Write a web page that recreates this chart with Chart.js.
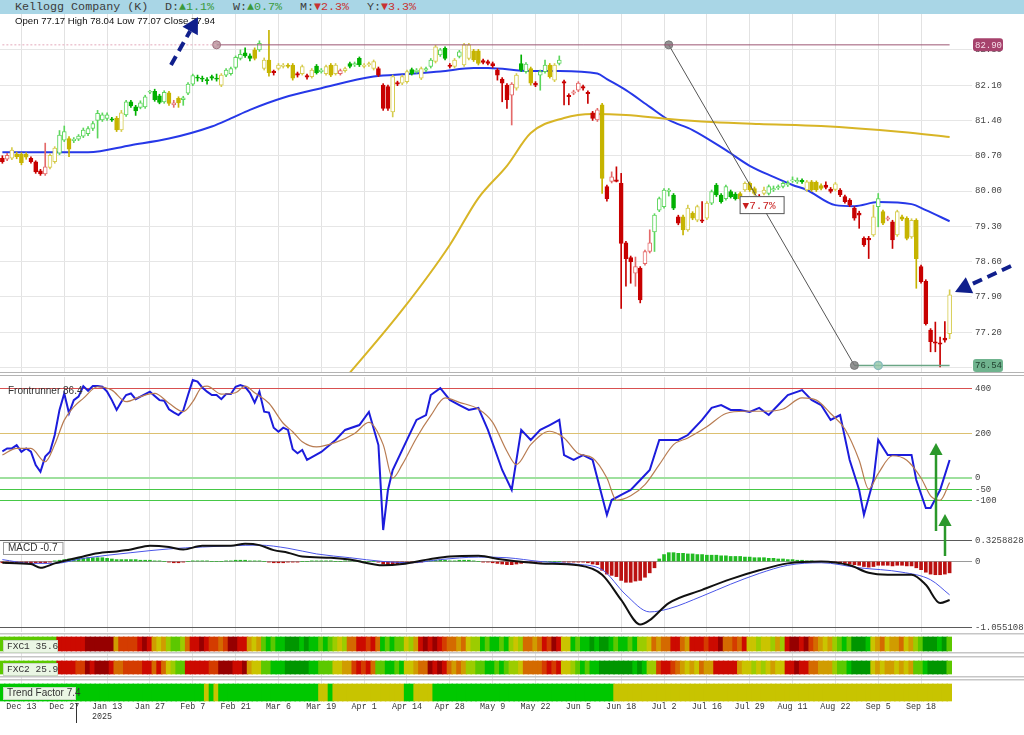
<!DOCTYPE html>
<html>
<head>
<meta charset="utf-8">
<title>Kellogg Company (K)</title>
<script src="https://cdn.jsdelivr.net/npm/chart.js@4.4.1/dist/chart.umd.min.js"></script>
<style>
  body { margin: 0; width: 1024px; height: 735px; overflow: hidden; position: relative; background: #fff; }
  canvas { position: absolute; left: 0; }
  #hdr { position: absolute; left: 0; top: 0; width: 1024px; height: 14px; background: #a9d6e6; font: 11.7px "Liberation Mono", monospace; color: #3c3c3c; }
  #hdr > span { position: absolute; top: 0; line-height: 14px; white-space: pre; }
  .up { color: #3a9a3a; }
  .dn { color: #c83232; }
  #ohlc { position: absolute; left: 15px; top: 15px; font: 9.6px "Liberation Sans", Arial, sans-serif; color: #111; z-index: 4; }
  .sep { position: absolute; left: 0; width: 1024px; height: 1px; background: #b4b4b4; }
</style>
</head>
<body>
<div id="hdr">
  <span style="left:15px">Kellogg Company (K)</span>
  <span style="left:165px">D:<span class="up">▲1.1%</span></span>
  <span style="left:233px">W:<span class="up">▲0.7%</span></span>
  <span style="left:300px">M:<span class="dn">▼2.3%</span></span>
  <span style="left:367px">Y:<span class="dn">▼3.3%</span></span>
</div>
<div id="ohlc">Open 77.17 High 78.04 Low 77.07 Close 77.94</div>
<canvas id="cPrice" width="1024" height="358" style="top:14px"></canvas>
<div class="sep" style="top:372px"></div>
<div class="sep" style="top:375px"></div>
<canvas id="cFr" width="1024" height="161" style="top:377px"></canvas>
<canvas id="cMacd" width="1024" height="101" style="top:531px"></canvas>
<canvas id="cStrip" width="1024" height="102" style="top:633px"></canvas>
<canvas id="ov" width="1024" height="735" style="top:0;z-index:5;pointer-events:none"></canvas>
<script>
"use strict"

// daily candles, Dec 9 2024 .. Sep 26 2025
const open = [
  80.65,80.63,80.65,80.73,80.73,80.73,80.65,80.58,80.40,80.34, 80.47,80.58,80.75,81.01,81.04,81.00,81.03,81.09,81.14,81.24,
  81.40,81.41,81.44,81.43,81.44,81.21,81.51,81.77,81.67,81.66, 81.67,81.96,81.98,81.89,81.77,81.95,81.71,81.84,81.81,81.94,
  82.12,82.26,82.24,82.21,82.27,82.24,82.10,82.30,82.33,82.45, 82.63,82.74,82.68,82.80,82.80,82.43,82.60,82.38,82.43,82.47,
  82.50,82.50,82.33,82.33,82.29,82.27,82.48,82.37,82.33,82.50, 82.33,82.33,82.39,82.53,82.50,82.63,82.47,82.50,82.43,82.43,
  82.10,82.07,81.57,82.15,82.14,82.17,82.41,82.37,82.24,82.40, 82.47,82.57,82.70,82.83,82.50,82.47,82.67,82.50,82.63,82.78,
  82.78,82.59,82.57,82.53,82.40,82.22,82.10,81.90,82.04,82.53, 82.37,82.43,82.14,82.30,82.37,82.50,82.20,82.53,82.17,81.90,
  81.94,82.00,82.07,81.96,81.55,81.41,81.71,80.09,80.19,80.22, 80.15,78.97,78.68,78.37,78.47,78.56,78.80,79.19,79.62,79.69,
  79.99,79.92,79.49,79.49,79.23,79.56,79.42,79.43,79.46,79.76, 80.12,79.92,79.85,79.99,79.94,79.95,80.02,80.15,80.05,79.90,
  79.95,79.95,80.02,80.06,80.09,80.12,80.20,80.18,80.21,80.02, 80.18,80.17,80.11,80.12,80.04,80.03,80.02,79.89,79.82,79.66,
  79.56,79.06,79.06,79.13,79.69,79.59,79.44,79.39,79.13,79.49, 79.46,79.09,79.42,78.50,78.21,77.24,77.01,76.99,77.08,77.17
];
const high = [
  80.70,80.75,80.86,80.77,80.76,80.76,80.68,80.60,80.43,80.95, 80.74,80.88,81.20,81.29,81.08,81.06,81.12,81.25,81.28,81.38,
  81.60,81.55,81.55,81.46,81.48,81.60,81.80,81.80,81.70,81.79, 81.90,82.00,82.02,81.92,81.99,81.98,81.80,81.87,81.88,82.15,
  82.32,82.30,82.28,82.25,82.30,82.32,82.33,82.43,82.46,82.68, 82.80,82.84,82.72,82.84,82.98,82.64,83.19,82.40,82.53,82.53,
  82.53,82.53,82.36,82.50,82.32,82.43,82.51,82.43,82.50,82.53, 82.53,82.42,82.46,82.56,82.56,82.66,82.53,82.56,82.60,82.46,
  82.13,82.10,82.30,82.18,82.30,82.40,82.44,82.43,82.46,82.46, 82.63,82.89,82.83,82.86,82.53,82.63,82.79,82.93,82.93,82.81,
  82.81,82.62,82.60,82.56,82.43,82.25,82.13,82.15,82.33,82.70, 82.55,82.46,82.17,82.40,82.60,82.53,82.53,82.68,82.20,81.93,
  82.00,82.17,82.10,81.99,81.58,81.64,81.74,80.12,80.38,80.48, 80.35,79.00,78.71,78.69,78.50,78.83,79.23,79.55,79.88,80.05,
  80.05,79.95,79.52,79.52,79.72,79.59,79.72,79.79,79.79,80.02, 80.15,79.95,80.12,80.02,79.97,79.98,80.18,80.18,80.08,79.93,
  80.08,80.12,80.10,80.12,80.18,80.20,80.28,80.26,80.24,80.21, 80.21,80.20,80.14,80.18,80.07,80.17,80.05,79.92,79.85,79.69,
  79.60,79.09,79.10,79.72,79.95,79.62,79.50,79.42,79.62,79.52, 79.49,79.45,79.45,78.53,78.24,77.27,77.40,77.10,77.41,78.04
];
const low = [
  80.55,80.60,80.62,80.64,80.52,80.63,80.55,80.35,80.31,80.31, 80.44,80.55,80.72,80.98,80.68,80.96,81.00,81.06,81.10,81.20,
  81.05,81.38,81.40,81.38,81.18,81.18,81.48,81.66,81.50,81.63, 81.64,81.93,81.78,81.73,81.74,81.70,81.66,81.66,81.70,81.91,
  82.09,82.18,82.17,82.12,82.20,82.18,82.07,82.27,82.30,82.42, 82.60,82.65,82.58,82.60,82.77,82.40,82.28,82.30,82.40,82.44,
  82.44,82.20,82.26,82.30,82.22,82.24,82.32,82.34,82.30,82.27, 82.30,82.30,82.36,82.44,82.47,82.47,82.44,82.47,82.40,82.27,
  81.60,81.60,81.47,82.09,82.11,82.14,82.30,82.34,82.21,82.37, 82.44,82.54,82.67,82.60,82.44,82.44,82.64,82.47,82.60,82.57,
  82.50,82.52,82.50,82.45,82.20,81.77,81.64,81.31,82.00,82.37, 82.34,82.10,82.07,82.00,82.34,82.24,82.17,82.50,81.71,81.71,
  81.91,81.97,82.00,81.74,81.40,81.38,79.95,79.80,80.16,80.18, 77.67,78.11,78.17,78.11,77.78,78.53,78.77,78.80,79.59,79.66,
  79.90,79.63,79.33,79.13,79.20,79.43,79.39,79.37,79.43,79.73, 79.89,79.76,79.82,79.86,79.82,79.82,79.99,79.99,79.92,79.72,
  79.92,79.92,79.99,80.03,80.06,80.09,80.17,80.15,80.15,79.99, 79.99,79.99,80.02,80.04,79.96,80.00,79.89,79.76,79.69,79.42,
  79.26,78.90,78.66,79.10,79.29,79.33,79.41,78.86,79.10,79.41, 79.03,79.06,78.07,78.17,77.34,76.81,76.81,76.51,77.00,77.07
];
const close = [
  80.58,80.71,80.81,80.68,80.56,80.67,80.58,80.38,80.34,80.48, 80.71,80.85,81.11,81.18,80.83,81.03,81.09,81.21,81.24,81.34,
  81.54,81.51,81.51,81.41,81.21,81.55,81.77,81.69,81.59,81.75, 81.87,81.98,81.81,81.76,81.96,81.74,81.75,81.75,81.85,82.12,
  82.29,82.24,82.22,82.19,82.24,82.22,82.30,82.40,82.43,82.65, 82.71,82.68,82.63,82.63,82.93,82.60,82.35,82.35,82.50,82.50,
  82.47,82.24,82.30,82.47,82.26,82.40,82.35,82.40,82.47,82.30, 82.50,82.39,82.43,82.47,82.53,82.50,82.50,82.53,82.57,82.30,
  81.64,81.64,82.27,82.12,82.27,82.37,82.33,82.40,82.43,82.43, 82.60,82.86,82.80,82.63,82.47,82.60,82.76,82.90,82.90,82.60,
  82.53,82.55,82.53,82.48,82.30,82.14,81.81,82.12,82.30,82.40, 82.52,82.14,82.10,82.37,82.50,82.27,82.50,82.60,82.14,81.87,
  81.97,82.14,82.04,81.93,81.44,81.61,80.25,79.85,80.28,80.19, 78.96,78.66,78.60,78.50,77.84,78.80,78.97,79.52,79.85,80.02,
  80.02,79.66,79.36,79.23,79.66,79.46,79.69,79.40,79.76,79.99, 79.92,79.79,80.09,79.89,79.85,79.85,80.15,80.02,79.95,79.85,
  80.02,80.09,80.05,80.09,80.15,80.15,80.22,80.21,80.18,80.18, 80.02,80.02,80.05,80.07,79.99,80.14,79.92,79.79,79.72,79.46,
  79.52,78.93,79.03,79.49,79.85,79.36,79.47,79.03,79.59,79.44, 79.06,79.42,78.66,78.20,77.37,77.01,76.98,76.96,77.04,77.94
];
// candle tone per day: r = red, g = green, y = yellow
const candleTone =
  "rryyyyrrrr" + "yyggyggggg" + "ggggyygggg" + "gggggyrygg" + "ggggggyggg" +
  "gggygyyryy" + "yyryryggyy" + "yrygggyyyr" + "rryryyggyg" + "gyggrygyyy" +
  "yrrrrrrryg" + "gyrggyygrr" + "rrrrrryrrr" + "rrrrrrrggg" + "ggryyyyryg" +
  "gggggyyyyr" + "yggggggggy" + "yyyrryrrrr" + "rrrygyrryy" + "yyyrrrrrry";

// moving averages as [day index, value]
const maBlue = [[0,80.77],[18,80.77],[27,80.91],[35,81.04],[44,81.28],[48,81.44],[52,81.61],[59,81.85],[67,82.04],
  [78,82.27],[85,82.32],[92,82.37],[99,82.44],[102,82.44],[111,82.38],[117,82.38],[125,82.33],[127,82.22],[131,82.00],
  [136,81.67],[140,81.41],[145,81.21],[152,80.81],[157,80.50],[162,80.28],[166,80.12],[169,80.02],[175,79.72],
  [179,79.70],[184,79.78],[191,79.74],[194,79.62],[199,79.40]];
const maYellow = [[69,75.95],[84,77.64],[94,78.93],[100,79.86],[106,80.50],[111,81.15],[118,81.45],[124,81.53],
  [131,81.51],[140,81.43],[149,81.37],[159,81.33],[172,81.29],[189,81.17],[199,81.07]];

const priceTicks = [76.50, 77.20, 77.90, 78.60, 79.30, 80.00, 80.70, 81.40, 82.10, 82.80];
const resistance = 82.90;
const support = 76.54;

// Frontrunner oscillator
const frBlueDaily = [120,133,133,148,118,133,118,58,28,96, 118,193,306,380,291,350,366,413,392,413,
  413,410,388,350,306,343,373,380,354,366, 377,388,369,350,347,309,295,283,303,373,
  440,433,407,388,373,373,354,377,377,410, 418,410,383,339,388,298,294,226,208,226, 216,129,111];
const frBlueLater = [[63,126],[64,81],[67,117],[70,171],[72,216],[75,238],[77,297],[79,148],[80,-234],[81,-54],[82,36],
  [85,171],[87,261],[89,283],[90,373],[92,404],[94,351],[96,328],[98,306],[100,315],[102,216],[105,36],[107,-54],
  [109,216],[111,171],[113,216],[115,238],[117,261],[118,103],[120,81],[122,103],[124,81],[127,-166],[128,-99],
  [130,-76],[132,-54],[134,-9],[136,36],[138,171],[140,171],[142,171],[144,193],[147,261],[149,315],[151,328],
  [153,306],[155,306],[157,297],[159,315],[161,283],[163,328],[165,373],[168,395],[170,351],[172,328],[174,261],
  [176,283],[178,81],[180,-54],[181,-166],[183,-9],[184,171],[186,103],[189,103],[191,103],[192,-9],[194,-135],
  [195,-135],[197,-54],[199,81]];
const frBrown = [[0,103],[3,133],[6,133],[9,73],[11,150],[13,260],[15,320],[17,358],[20,410],[23,395],[26,343],[29,366],
  [32,380],[35,336],[38,298],[40,343],[42,410],[43,413],[46,377],[49,383],[51,413],[53,383],[56,336],[59,246],[61,208],
  [63,163],[66,140],[70,160],[74,200],[77,250],[80,150],[82,0],[84,60],[87,180],[90,280],[93,360],[96,340],[100,310],
  [103,250],[106,120],[108,60],[111,150],[115,210],[118,180],[121,110],[124,90],[127,0],[129,-100],[132,-80],[135,-30],
  [138,60],[141,150],[144,180],[148,230],[152,290],[156,300],[160,300],[164,310],[168,360],[171,350],[174,290],
  [177,220],[180,80],[182,-50],[184,20],[187,100],[190,80],[193,0],[195,-80],[197,-100],[199,-20]];
const frTicks = [400, 200, 0, -50, -100];
const frTickColors = ["#d85050", "#dcc070", "#9ee09e", "#46c846", "#46c846"];

// MACD
const macdLine = [[0,-0.02],[6,-0.04],[8,-0.10],[11,-0.03],[17,0.08],[20,0.13],[24,0.16],[27,0.19],[31,0.25],[35,0.23],
  [38,0.19],[42,0.25],[48,0.25],[51,0.28],[54,0.26],[57,0.18],[60,0.14],[63,0.08],[69,0.06],[73,0.03],[80,-0.06],
  [84,-0.04],[90,0.04],[94,0.08],[100,0.09],[105,0.03],[113,-0.03],[121,-0.06],[126,-0.21],[130,-0.61],[134,-1.0],
  [136,-0.93],[140,-0.66],[147,-0.45],[153,-0.28],[159,-0.14],[165,-0.03],[172,0.0],[178,-0.06],[182,-0.18],
  [186,-0.21],[191,-0.21],[194,-0.37],[197,-0.66],[199,-0.61]];
const macdSignal = [[0,0.03],[6,-0.03],[11,-0.03],[17,0.05],[27,0.14],[35,0.20],[42,0.23],[48,0.25],[54,0.26],[60,0.21],
  [66,0.12],[73,0.06],[80,0.0],[86,-0.02],[92,0.03],[100,0.07],[106,0.06],[113,0.0],[120,-0.04],[126,-0.13],
  [131,-0.53],[136,-0.80],[140,-0.75],[147,-0.55],[153,-0.36],[159,-0.19],[165,-0.06],[172,-0.02],[180,-0.10],
  [189,-0.17],[195,-0.29],[199,-0.53]];
const macdHist = [
  -0.02,-0.03,-0.03,-0.03,-0.03,-0.03,-0.03,-0.02,-0.02,-0.02, -0.01,0.01,0.02,0.03,0.04,0.04,0.05,0.05,0.06,0.06,
  0.06,0.06,0.05,0.04,0.03,0.03,0.03,0.03,0.03,0.02, 0.02,0.02,0.01,0.01,0,-0.01,-0.02,-0.02,-0.01,0,
  0.01,0.01,0.01,0.01,0,0,0,0.01,0.01,0.02, 0.02,0.02,0.01,0.01,0.01,0,-0.01,-0.02,-0.02,-0.02,
  -0.01,-0.01,-0.01,0,0,0.01,0.01,0.01,0.01,0.01, 0,0,0.01,0.01,0.01,0.01,0,0,0,-0.01,
  -0.04,-0.06,-0.05,-0.05,-0.04,-0.03,-0.02,-0.02,-0.01,0, 0.01,0.02,0.02,0.02,0.01,0.01,0.02,0.02,0.02,0.01,
  0,-0.01,-0.01,-0.02,-0.03,-0.04,-0.05,-0.05,-0.04,-0.03, -0.02,-0.02,-0.02,-0.01,0,0,0,0,-0.01,-0.01,
  -0.01,-0.01,-0.01,-0.02,-0.04,-0.05,-0.14,-0.20,-0.22,-0.24, -0.30,-0.33,-0.33,-0.31,-0.30,-0.25,-0.18,-0.10,0.04,0.11,
  0.14,0.14,0.13,0.13,0.12,0.12,0.11,0.11,0.10,0.10, 0.10,0.09,0.09,0.08,0.08,0.08,0.07,0.07,0.06,0.06,
  0.06,0.05,0.05,0.04,0.04,0.03,0.03,0.02,0.02,0.01, 0.01,0,0,0,-0.01,-0.01,-0.02,-0.03,-0.04,-0.05,
  -0.06,-0.08,-0.09,-0.08,-0.06,-0.06,-0.06,-0.07,-0.06,-0.06, -0.07,-0.07,-0.10,-0.13,-0.17,-0.20,-0.21,-0.21,-0.20,-0.18
];
const macdTicks = [0.3258828, 0, -1.055108];

// heat strips, one level per day: 0 dark red .. 5 yellow .. 9 dark green
const fxc1 = "777777777777" + "111111" + "000000" + "4" + "2222" + "101" + "454" + "6776" + "3" + "1101" + "2232" +
  "001" + "14" + "54" + "78788" + "99989" + "88787" + "656" + "33" + "1121" + "3" + "87877" + "564" + "101012" +
  "3343" + "566" + "878878" + "656" + "3343" + "1201" + "55" + "878898" + "99" + "878878" + "665" + "3433" + "11" +
  "34" + "1112110" + "3323" + "1" + "55655646" + "100102" + "3454" + "6787" + "9998" + "5" + "43544354" + "67" +
  "99989" + "7";
const fxc2 = "777777777777" + "1111" + "22" + "010001" + "33" + "2222" + "11313" + "5677" + "11111" + "2200" + "0110" +
  "455" + "77888" + "99999" + "88777" + "5544" + "21213" + "778878" + "55433" + "0101" + "3434" + "6677887876" +
  "65" + "3333" + "2121" + "55678788" + "99999" + "99898" + "66" + "2112" + "34545344" + "11111" + "4556565455" +
  "11011" + "33444" + "6778" + "9999" + "545445454" + "778" + "9999" + "7";
const trendRuns = [[43,"g"],[1,"y"],[1,"g"],[1,"y"],[21,"g"],[2,"y"],[1,"g"],[15,"y"],[2,"g"],[4,"y"],[38,"g"],[71,"y"]];

const tickLabels = ["Dec 13","Dec 27","Jan 13","Jan 27","Feb 7","Feb 21","Mar 6","Mar 19","Apr 1","Apr 14","Apr 28",
  "May 9","May 22","Jun 5","Jun 18","Jul 2","Jul 16","Jul 29","Aug 11","Aug 22","Sep 5","Sep 18"];
const holidays = ["2024-12-25","2025-01-01","2025-01-09","2025-01-20","2025-02-17","2025-04-18","2025-05-26",
  "2025-06-19","2025-07-04","2025-09-01"];
const months = ["Jan","Feb","Mar","Apr","May","Jun","Jul","Aug","Sep","Oct","Nov","Dec"];

// trading-day labels
const N = open.length;
let labels = [];
for (let d = new Date(Date.UTC(2024, 11, 9)); labels.length < N; d.setUTCDate(d.getUTCDate() + 1)) {
  let wd = d.getUTCDay();
  if (wd === 0 || wd === 6 || holidays.includes(d.toISOString().slice(0, 10))) continue;
  labels.push(months[d.getUTCMonth()] + " " + d.getUTCDate());
}
const tickIdx = new Set(tickLabels.map(t => labels.indexOf(t)));

function sparse(pairs) {
  let a = new Array(N).fill(null);
  pairs.forEach(p => { a[p[0]] = p[1]; });
  return a;
}

const mono = '"Liberation Mono", "Courier New", monospace';
const sans = '"Liberation Sans", Arial, sans-serif';

function xAxis(showTicks) {
  return {
    type: "category", offset: true,
    grid: { offset: false, drawTicks: false, color: c => tickIdx.has(c.index) ? "#e2e2e2" : "rgba(0,0,0,0)" },
    border: { display: false },
    ticks: { display: showTicks, autoSkip: false, maxRotation: 0, minRotation: 0, padding: 0, color: "#333",
      font: { family: mono, size: 8.4 }, callback: (v, i) => tickIdx.has(i) ? labels[i] : "" },
    afterFit: s => { s.paddingLeft = 0; s.paddingRight = 0; if (showTicks) s.height = 33; }
  };
}

function yAxis(min, max, values, fmt, grid, showTicks) {
  return {
    position: "right", min: min, max: max,
    afterBuildTicks: s => { s.ticks = values.map(v => ({ value: v })); },
    afterFit: s => { s.width = 72; s.paddingTop = 0; s.paddingBottom = 0; },
    grid: grid,
    border: { display: false },
    ticks: { display: showTicks, padding: 3, color: "#444", font: { family: mono, size: 9 }, callback: fmt }
  };
}

const baseOpts = { responsive: false, animation: false, events: [], layout: { padding: 0 },
  plugins: { legend: { display: false }, tooltip: { enabled: false } } };

// ---------- price pane ----------
const palette = { r: ["#c80000", "#e46a6a"], g: ["#00b000", "#5cd65c"], y: ["#c6b400", "#d6cc4e"] };
const isDown = close.map((c, i) => c < open[i]);
const candleColor = close.map((c, i) => palette[candleTone[i]][isDown[i] ? 0 : 1]);

function dotAt(list) {
  return c => list.includes(c.dataIndex) ? 4 : 0;
}

const priceExtras = {
  id: "priceExtras",
  afterDraw(chart) {
    const ctx = chart.ctx, y = chart.scales.y, x = chart.scales.x;
    ctx.save();
    function tag(v, bg, fg) {
      const py = y.getPixelForValue(v);
      ctx.fillStyle = bg;
      ctx.beginPath();
      ctx.roundRect(973, py - 6.5, 30, 13, 3);
      ctx.fill();
      ctx.fillStyle = fg;
      ctx.font = "9px " + mono;
      ctx.textBaseline = "middle";
      ctx.fillText(v.toFixed(2), 975, py + 0.5);
    }
    tag(resistance, "#a6426c", "#f6dce8");
    tag(support, "#6fb38e", "#1f3d2c");
    // change label on the diagonal
    const cx = (x.getPixelForValue(140) + x.getPixelForValue(179)) / 2;
    const cy = (y.getPixelForValue(resistance) + y.getPixelForValue(support)) / 2;
    ctx.fillStyle = "#fff";
    ctx.fillRect(cx - 22, cy - 9, 44, 17);
    ctx.strokeStyle = "#555";
    ctx.lineWidth = 1;
    ctx.strokeRect(cx - 21.5, cy - 8.5, 44, 17);
    ctx.font = "11px " + mono;
    ctx.textBaseline = "middle";
    ctx.fillStyle = "#c81e1e";
    ctx.fillText("▼7.7%", cx - 19, cy + 1);
    ctx.restore();
  }
};

new Chart(document.getElementById("cPrice"), {
  type: "bar",
  data: {
    labels: labels,
    datasets: [
      { type: "line", data: sparse(maYellow), borderColor: "#d8b526", borderWidth: 2, pointRadius: 0, spanGaps: true,
        cubicInterpolationMode: "monotone", order: 6 },
      { type: "line", data: sparse(maBlue), borderColor: "#2638e8", borderWidth: 2, pointRadius: 0, spanGaps: true,
        cubicInterpolationMode: "monotone", order: 6 },
      { data: low.map((l, i) => [l, high[i]]), backgroundColor: candleColor, barThickness: 1, grouped: false, order: 4 },
      { data: open.map((o, i) => [o, close[i]]), backgroundColor: candleColor.map((c, i) => isDown[i] ? c : "#fff"),
        borderColor: candleColor, borderWidth: 1, borderSkipped: false, barThickness: 4, minBarLength: 1,
        grouped: false, order: 3 },
      { type: "line", data: sparse([[0, resistance], [45, resistance]]), borderColor: "#e4a9ba", borderWidth: 1,
        borderDash: [2, 2], pointRadius: 0, spanGaps: true, order: 1 },
      { type: "line", data: sparse([[45, resistance], [199, resistance]]), borderColor: "#9c5673", borderWidth: 1,
        spanGaps: true, pointRadius: dotAt([45]), pointBackgroundColor: "rgba(180,140,150,0.8)",
        pointBorderColor: "#a07080", order: 1 },
      { type: "line", data: sparse([[140, resistance], [179, support]]), borderColor: "#555", borderWidth: 1,
        spanGaps: true, pointRadius: dotAt([140, 179]), pointBackgroundColor: "rgba(120,120,120,0.8)",
        pointBorderColor: "#777", order: 1 },
      { type: "line", data: sparse([[179, support], [184, support], [199, support]]), borderColor: "#6aa585",
        borderWidth: 1.5, spanGaps: true, pointRadius: dotAt([184]), pointBackgroundColor: "rgba(150,200,170,0.8)",
        pointBorderColor: "#8bb", order: 1 }
    ]
  },
  options: Object.assign({}, baseOpts, {
    scales: {
      x: xAxis(false),
      y: yAxis(76.409, 83.512, priceTicks, v => v.toFixed(2), { color: "#e6e6e6", tickLength: 20 }, true)
    }
  }),
  plugins: [priceExtras]
});

// ---------- frontrunner pane ----------
// label text in the top-left corner of a pane, optionally boxed, placed at a value of the pane's own scale
const paneLabel = (id, text, boxed, atValue) => ({
  id: id,
  afterDraw(chart) {
    const ctx = chart.ctx;
    const top = chart.scales.y.getPixelForValue(atValue);
    ctx.save();
    ctx.font = "10px " + sans;
    ctx.textBaseline = "middle";
    if (boxed) {
      const w = ctx.measureText(text).width + 10;
      ctx.fillStyle = "#fff";
      ctx.fillRect(3, top + 1, w, 12);
      ctx.strokeStyle = "#999";
      ctx.strokeRect(3.5, top + 1.5, w, 12);
    }
    ctx.fillStyle = "#333";
    ctx.fillText(text, 8, top + 7.5);
    ctx.restore();
  }
});

new Chart(document.getElementById("cFr"), {
  type: "line",
  data: {
    labels: labels,
    datasets: [
      { data: sparse(frBrown), borderColor: "#b87c52", borderWidth: 1.2, pointRadius: 0, spanGaps: true,
        cubicInterpolationMode: "monotone" },
      { data: sparse(frBlueDaily.map((v, i) => [i, v]).concat(frBlueLater)), borderColor: "#1c1cdc", borderWidth: 2,
        pointRadius: 0, spanGaps: true }
    ]
  },
  options: Object.assign({}, baseOpts, {
    scales: {
      x: xAxis(false),
      y: yAxis(-269.7, 453.9, frTicks, v => String(v),
        { color: c => frTickColors[c.index], lineWidth: c => c.index === 2 ? 2 : 1, tickLength: 20 }, true)
    }
  }),
  plugins: [paneLabel("frLabel", "Frontrunner 86.4", false, 425)]
});

// ---------- MACD pane ----------
new Chart(document.getElementById("cMacd"), {
  type: "bar",
  data: {
    labels: labels,
    datasets: [
      { type: "line", data: sparse(macdSignal), borderColor: "#4a55e8", borderWidth: 1, pointRadius: 0, spanGaps: true,
        cubicInterpolationMode: "monotone", order: 1 },
      { type: "line", data: sparse(macdLine), borderColor: "#111", borderWidth: 2, pointRadius: 0, spanGaps: true,
        cubicInterpolationMode: "monotone", order: 0 },
      { data: macdHist, backgroundColor: macdHist.map(v => v >= 0 ? "#22bb22" : "#bb1111"), barThickness: 3, order: 2 }
    ]
  },
  options: Object.assign({}, baseOpts, {
    scales: {
      x: xAxis(false),
      y: yAxis(-1.119, 0.484, macdTicks, v => String(v),
        { color: c => c.index === 1 ? "#9a9a9a" : "#5a5a5a", tickLength: 20 }, true)
    }
  }),
  plugins: [paneLabel("macdLabel", "MACD -0.7", true, macdTicks[0])]
});

// ---------- heat strips + date axis ----------
const levelColors = ["#960000", "#cc0a00", "#d43c00", "#d46a00", "#d09c00", "#cac400", "#9ccc00", "#5cc800", "#00c000", "#009600"];
const trendColors = { g: "#00c800", y: "#c8c400" };
let trend = [];
trendRuns.forEach(r => { for (let k = 0; k < r[0]; k++) trend.push(r[1]); });

const stripExtras = {
  id: "stripExtras",
  afterDraw(chart) {
    const ctx = chart.ctx, x = chart.scales.x, y = chart.scales.y;
    ctx.save();
    function box(text, top, w, font) {
      ctx.fillStyle = "#eaf6e4";
      ctx.fillRect(3, top, w, 12);
      ctx.strokeStyle = "#c9d9c2";
      ctx.strokeRect(3.5, top + 0.5, w, 12);
      ctx.fillStyle = "#333";
      ctx.font = font;
      ctx.textBaseline = "middle";
      ctx.fillText(text, 7, top + 6.5);
    }
    box("FXC1 35.6", y.getPixelForValue(62), 54, "9.5px " + mono);
    box("FXC2 25.9", y.getPixelForValue(39), 54, "9.5px " + mono);
    box("Trend Factor 7.4", y.getPixelForValue(15), 72, "10px " + sans);
    // year marker
    const yb = (x.getPixelForValue(15) + x.getPixelForValue(16)) / 2;
    ctx.strokeStyle = "#333";
    ctx.lineWidth = 1;
    ctx.beginPath();
    ctx.moveTo(Math.round(yb) + 0.5, chart.chartArea.bottom + 1);
    ctx.lineTo(Math.round(yb) + 0.5, chart.chartArea.bottom + 21);
    ctx.stroke();
    ctx.font = "8.4px " + mono;
    const ji = labels.indexOf("Jan 13");
    const jx = x.getPixelForValue(ji) - ctx.measureText("Jan 13").width / 2;
    ctx.fillStyle = "#333";
    ctx.textBaseline = "middle";
    ctx.fillText("2025", jx, chart.chartArea.bottom + 15);
    ctx.restore();
  }
};

new Chart(document.getElementById("cStrip"), {
  type: "bar",
  data: {
    labels: labels,
    datasets: [
      { data: labels.map(() => [51, 65]), backgroundColor: fxc1.split("").map(c => levelColors[+c]),
        barThickness: 5.6, grouped: false },
      { data: labels.map(() => [28, 41]), backgroundColor: fxc2.split("").map(c => levelColors[+c]),
        barThickness: 5.6, grouped: false },
      { data: labels.map(() => [1, 18]), backgroundColor: trend.map(t => trendColors[t]),
        barThickness: 5.6, grouped: false }
    ]
  },
  options: Object.assign({}, baseOpts, {
    scales: {
      x: xAxis(true),
      y: yAxis(0, 69, [68, 49, 45, 25, 22], v => "", { color: "#c6c6c6", lineWidth: 1.5, tickLength: 72 }, false)
    }
  }),
  plugins: [stripExtras]
});

// ---------- hand-drawn arrows ----------
function arrow(ctx, x1, y1, x2, y2, color, width, dash, head) {
  const a = Math.atan2(y2 - y1, x2 - x1);
  const bx = x2 - Math.cos(a) * head, by = y2 - Math.sin(a) * head;
  ctx.save();
  ctx.strokeStyle = color;
  ctx.fillStyle = color;
  ctx.lineWidth = width;
  ctx.setLineDash(dash);
  ctx.beginPath();
  ctx.moveTo(x1, y1);
  ctx.lineTo(bx, by);
  ctx.stroke();
  ctx.setLineDash([]);
  ctx.beginPath();
  ctx.moveTo(x2, y2);
  ctx.lineTo(bx + Math.sin(a) * head * 0.55, by - Math.cos(a) * head * 0.55);
  ctx.lineTo(bx - Math.sin(a) * head * 0.55, by + Math.cos(a) * head * 0.55);
  ctx.closePath();
  ctx.fill();
  ctx.restore();
}
const ov = document.getElementById("ov").getContext("2d");
arrow(ov, 171, 65, 198, 17, "#101f8c", 4, [10, 6], 16);
arrow(ov, 1011, 266, 955, 292, "#101f8c", 4, [10, 6], 16);
arrow(ov, 936, 531, 936, 443, "#2a982a", 2.5, [], 12);
arrow(ov, 945, 556, 945, 514, "#2a982a", 2.5, [], 12);
</script>
</body>
</html>
